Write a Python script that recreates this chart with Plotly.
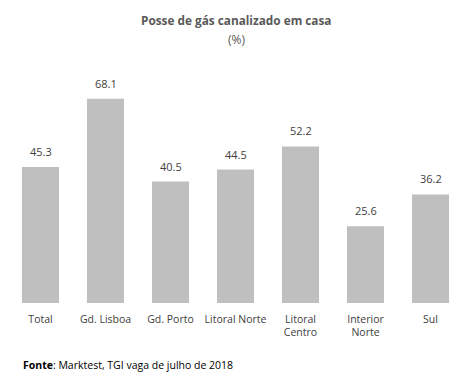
import plotly.graph_objects as go

categories = ["Total", "Gd. Lisboa", "Gd. Porto", "Litoral Norte", "Litoral<br>Centro", "Interior<br>Norte", "Sul"]
values = [45.3, 68.1, 40.5, 44.5, 52.2, 25.6, 36.2]
labels = [f"{v:.1f}" for v in values]

font_family = "Open Sans, Liberation Sans, sans-serif"

# page body has an 8px margin, so the figure is drawn offset by 8px
W, H = 459, 374
L, R, T, B = 0, 4, 55, 79
PH = H - T - B

fig = go.Figure(go.Bar(
    x=categories, y=values,
    marker=dict(color="#BFBFBF", line=dict(width=0)),
    hoverinfo="x+y",
))

fig.update_layout(
    width=W, height=H,
    margin=dict(l=L, r=R, t=T, b=B),
    paper_bgcolor="white", plot_bgcolor="white",
    bargap=0.43,
    showlegend=False,
    xaxis=dict(showline=False, showgrid=False, ticks="", ticklabelstandoff=8,
               tickfont=dict(family=font_family, size=10.5, color="#404040")),
    yaxis=dict(range=[0, 80], visible=False),
)

for c, v, t in zip(categories, values, labels):
    fig.add_annotation(x=c, y=v, text=t, xref="x", yref="y", yanchor="bottom",
                       yshift=6, showarrow=False,
                       font=dict(family=font_family, size=11, color="#404040"))

fig.add_annotation(text="<b>Posse de gás canalizado em casa</b>", xref="paper", yref="paper",
                   x=0.502, y=1 + (T - 12) / PH, yanchor="middle", showarrow=False,
                   font=dict(family=font_family, size=11.8, color="#595959"))
fig.add_annotation(text="(%)", xref="paper", yref="paper",
                   x=0.502, y=1 + (T - 32) / PH, yanchor="middle", showarrow=False,
                   font=dict(family=font_family, size=12, color="#595959"))
fig.add_annotation(text="<b>Fonte</b>: Marktest, TGI vaga de julho de 2018", xref="paper", yref="paper",
                   x=13 / (W - L - R), xanchor="left", y=-(357 - (H - B)) / PH, yanchor="middle",
                   showarrow=False, font=dict(family=font_family, size=10.5, color="#000000"))

fig.write_html("out.html")
